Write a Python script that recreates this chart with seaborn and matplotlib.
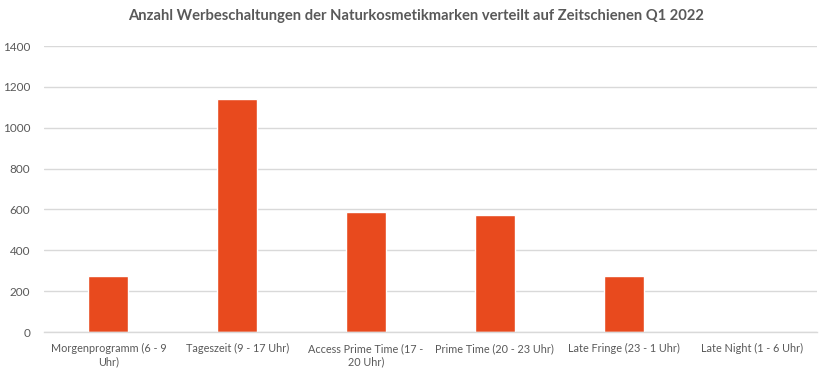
import matplotlib
matplotlib.use("Agg")
import matplotlib.pyplot as plt
import seaborn as sns
import pandas as pd

categories = [
    "Morgenprogramm (6 - 9\nUhr)",
    "Tageszeit (9 - 17 Uhr)",
    "Access Prime Time (17 -\n20 Uhr)",
    "Prime Time (20 - 23 Uhr)",
    "Late Fringe (23 - 1 Uhr)",
    "Late Night (1 - 6 Uhr)",
]
values = [275, 1142, 588, 574, 275, 0]
yticks = [0, 200, 400, 600, 800, 1000, 1200, 1400]

df = pd.DataFrame({"Zeitschiene": categories, "Anzahl": values})

sns.set_theme(style="white")
plt.rcParams["font.family"] = ["Lato", "DejaVu Sans"]

fig = plt.figure(figsize=(8.32, 3.79), dpi=100)
ax = fig.add_axes([0.0529, 0.124, 0.929, 0.7546])

sns.barplot(data=df, x="Zeitschiene", y="Anzahl", color="#E84A1E",
            width=0.31, saturation=1, ax=ax)

ax.set_xlim(-0.5, 5.5)
ax.set_ylim(0, 1400)
ax.set_yticks(yticks)
ax.yaxis.grid(True, color="#d9d9d9", linewidth=1)
ax.set_axisbelow(True)
for s in ["top", "right", "left"]:
    ax.spines[s].set_visible(False)
ax.spines["bottom"].set_color("#d9d9d9")
ax.spines["bottom"].set_linewidth(1)
ax.tick_params(axis="both", length=0, colors="#595959")
ax.tick_params(axis="y", pad=10, labelsize=8.5)
ax.tick_params(axis="x", pad=8, labelsize=7.8)
ax.set_xlabel("")
ax.set_ylabel("")

fig.suptitle("Anzahl Werbeschaltungen der Naturkosmetikmarken verteilt auf Zeitschienen Q1 2022",
             x=0.5, y=0.975, fontsize=10.6, fontweight="bold", color="#595959")

fig.savefig("out.png", dpi=100)
